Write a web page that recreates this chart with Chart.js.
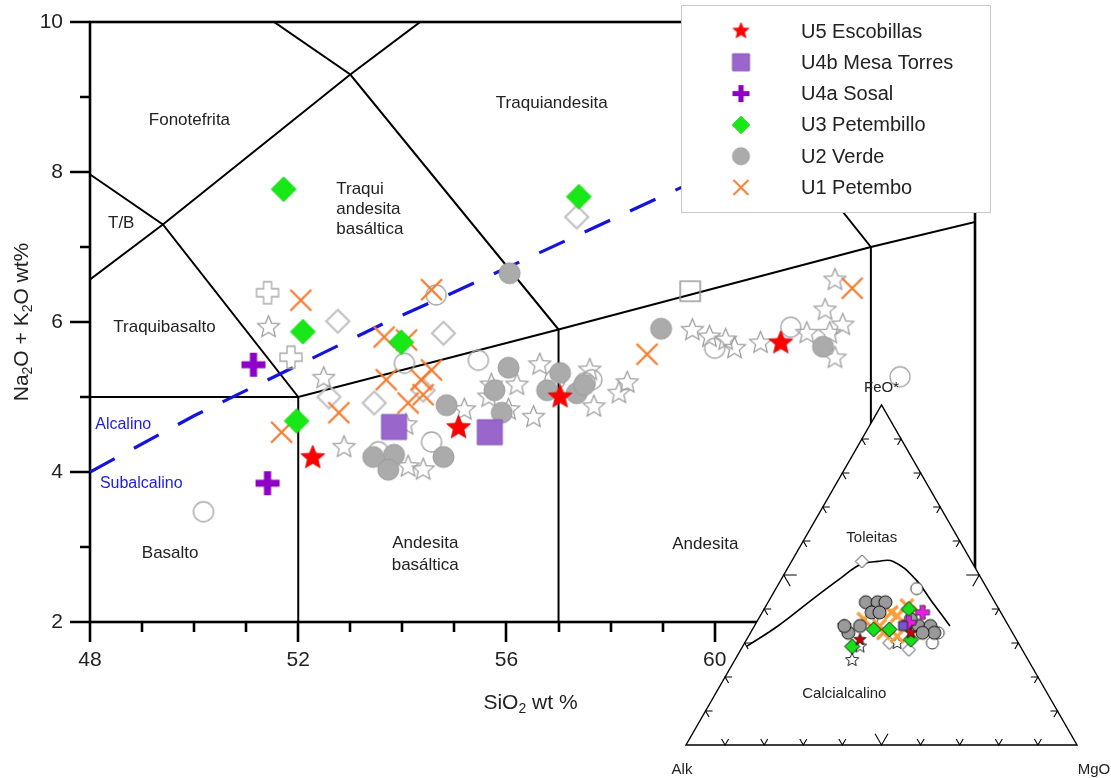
<!DOCTYPE html>
<html>
<head>
<meta charset="utf-8">
<title>TAS y AFM</title>
<script src="https://cdn.jsdelivr.net/npm/chart.js@4.4.1/dist/chart.umd.min.js"></script>
<style>
  html, body { margin: 0; padding: 0; background: #fff; }
  #wrap { position: relative; width: 1111px; height: 778px; overflow: hidden; }
  #tas { position: absolute; left: 0; top: 0; }
  #afm { position: absolute; left: 640px; top: 370px; }
</style>
</head>
<body>
<div id="wrap">
  <canvas id="tas" width="1111" height="778"></canvas>
  <canvas id="afm" width="471" height="408"></canvas>
</div>
<script>
// ---------- TAS data (SiO2 wt %, Na2O + K2O wt %) ----------
const u5SiO2 = [52.28, 55.08, 57.03, 61.27];
const u5Alk  = [4.19, 4.59, 5.00, 5.72];
const u4bSiO2 = [53.84, 55.68];
const u4bAlk  = [4.60, 4.53];
const u4aSiO2 = [51.14, 51.41];
const u4aAlk  = [5.43, 3.85];
const u3SiO2 = [51.72, 57.39, 52.09, 53.98, 51.97];
const u3Alk  = [7.77, 7.67, 5.87, 5.73, 4.68];
const u2SiO2 = [56.06, 56.04, 55.77, 54.85, 55.91, 54.79, 53.84, 53.44, 53.73, 57.03, 56.78, 57.35, 57.49, 58.97, 62.08];
const u2Alk  = [6.65, 5.39, 5.09, 4.89, 4.79, 4.20, 4.23, 4.20, 4.03, 5.32, 5.09, 5.05, 5.16, 5.91, 5.67];
const u1SiO2 = [52.05, 54.56, 53.65, 54.08, 53.69, 54.56, 54.36, 54.40, 54.11, 52.78, 51.68, 58.70, 62.64];
const u1Alk  = [6.29, 6.43, 5.80, 5.76, 5.23, 5.36, 5.23, 5.03, 4.92, 4.79, 4.53, 5.57, 6.45];

// reference samples (open symbols)
const refStarSiO2 = [51.43, 52.49, 52.88, 54.11, 54.40, 54.07, 55.19, 55.71, 56.20, 55.66, 56.04, 56.64, 56.52, 57.60, 57.68, 58.32, 58.16, 59.57, 59.90, 60.21, 60.38, 60.88, 61.77, 62.12, 62.31, 62.46, 62.21, 62.31];
const refStarAlk  = [5.93, 5.25, 4.33, 4.07, 4.03, 4.63, 4.83, 5.16, 5.16, 5.00, 4.83, 5.43, 4.73, 5.36, 4.87, 5.19, 5.05, 5.89, 5.80, 5.76, 5.65, 5.72, 5.85, 6.16, 6.56, 5.96, 5.85, 5.52];
const refCircSiO2 = [50.18, 54.04, 54.65, 55.46, 54.56, 53.54, 56.93, 57.51, 57.64, 60.00, 61.46, 63.56];
const refCircAlk  = [3.47, 5.45, 6.36, 5.49, 4.40, 4.27, 5.23, 5.19, 5.23, 5.65, 5.93, 5.27];
const refDiamSiO2 = [57.35, 52.76, 54.79, 52.59, 53.46, 54.40];
const refDiamAlk  = [7.40, 6.01, 5.85, 5.00, 4.92, 5.09];
const refPlusSiO2 = [51.41, 51.86];
const refPlusAlk  = [6.39, 5.53];
const refSqSiO2 = [59.53];
const refSqAlk  = [6.41];

// TAS field boundaries (Le Bas et al. 1986)
const tasBoundaries = [
  [[45, 5], [52, 5], [57, 5.9], [63, 7], [69, 8]],
  [[52, 2], [52, 5]],
  [[57, 2], [57, 5.9]],
  [[63, 2], [63, 7]],
  [[45, 5], [49.4, 7.3], [53, 9.3], [57.6, 11.7]],
  [[45, 9.4], [49.4, 7.3], [52, 5]],
  [[48.4, 11.5], [53, 9.3], [57, 5.9]],
  [[57.6, 11.7], [63, 7]]
];
// alkaline / subalkaline divide (Irvine & Baragar 1971)
const alkalineDivide = [[48, 4], [50, 4.75], [53.7, 6], [55, 6.4], [60, 8], [65, 8.8]];

const xTickLabels = [48, 52, 56, 60, 64];
const yTickLabels = [2, 4, 6, 8, 10];

const fieldLabels = [
  { text: 'Fonotefrita', x: 49.91, y: 8.69 },
  { text: 'T/B', x: 48.60, y: 7.32 },
  { text: 'Traquiandesita', x: 56.87, y: 8.91 },
  { text: 'Traqui', x: 52.73, y: 7.77, align: 'left' },
  { text: 'andesita', x: 52.73, y: 7.50, align: 'left' },
  { text: 'basáltica', x: 52.73, y: 7.23, align: 'left' },
  { text: 'Traquibasalto', x: 49.43, y: 5.93 },
  { text: 'Alcalino', x: 48.10, y: 4.63, align: 'left', color: '#1c1ce0' },
  { text: 'Subalcalino', x: 48.19, y: 3.84, align: 'left', color: '#1c1ce0' },
  { text: 'Basalto', x: 49.54, y: 2.91 },
  { text: 'Andesita', x: 54.44, y: 3.05 },
  { text: 'basáltica', x: 54.44, y: 2.76 },
  { text: 'Andesita', x: 59.82, y: 3.04 }
];

// ---------- AFM data [A, F, M] ----------
const afmU5  = [[0.40, 0.31, 0.29], [0.26, 0.33, 0.41]];
const afmU4b = [[0.27, 0.35, 0.38]];
const afmU4a = [[0.20, 0.39, 0.41], [0.25, 0.36, 0.39]];
const afmU3  = [[0.23, 0.40, 0.37], [0.43, 0.29, 0.28], [0.35, 0.34, 0.31], [0.31, 0.34, 0.35], [0.27, 0.31, 0.42]];
const afmU2  = [[0.33, 0.42, 0.25], [0.30, 0.42, 0.28], [0.28, 0.42, 0.30], [0.33, 0.39, 0.28], [0.31, 0.39, 0.30],
                [0.42, 0.33, 0.25], [0.38, 0.35, 0.27], [0.23, 0.35, 0.42], [0.20, 0.35, 0.45], [0.20, 0.33, 0.47],
                [0.23, 0.33, 0.44], [0.42, 0.35, 0.23], [0.24, 0.37, 0.39]];
const afmU1  = [[0.36, 0.37, 0.27], [0.28, 0.39, 0.33], [0.27, 0.38, 0.35], [0.21, 0.39, 0.40], [0.33, 0.33, 0.34],
                [0.30, 0.32, 0.38], [0.33, 0.35, 0.32], [0.23, 0.41, 0.36]];
const afmRefStar = [[0.42, 0.35, 0.23], [0.45, 0.25, 0.30], [0.41, 0.29, 0.30], [0.31, 0.30, 0.39]];
const afmRefCirc = [[0.18, 0.46, 0.36], [0.22, 0.30, 0.48], [0.19, 0.33, 0.48], [0.34, 0.37, 0.29]];
const afmRefDiam = [[0.28, 0.54, 0.18], [0.33, 0.30, 0.37], [0.29, 0.28, 0.43]];
// tholeiitic / calc-alkaline divide
const afmDivideA = [0.70, 0.59, 0.46, 0.36, 0.29, 0.24, 0.20, 0.17, 0.16, 0.15];
const afmDivideF = [0.29, 0.35, 0.43, 0.49, 0.53, 0.54, 0.54, 0.49, 0.42, 0.35];
const afmDivideM = [0.01, 0.06, 0.11, 0.15, 0.18, 0.22, 0.26, 0.34, 0.42, 0.50];

const afmLabels = [
  { text: 'Toleitas', a: 0.22, f: 0.61, m: 0.17 },
  { text: 'Calcialcalino', a: 0.52, f: 0.15, m: 0.33 }
];

// ---------- drawing helpers ----------
const FONT = '"Liberation Sans", Arial, Helvetica, sans-serif';
const TEXT = '#222';

function markerCanvas(size, paint) {
  const c = document.createElement('canvas');
  c.width = size; c.height = size;
  const g = c.getContext('2d');
  g.translate(size / 2, size / 2);
  paint(g);
  return c;
}
function finish(g, fill, stroke, lw) {
  if (fill) { g.fillStyle = fill; g.fill(); }
  if (stroke) { g.lineWidth = lw; g.strokeStyle = stroke; g.stroke(); }
}
const mk = {
  star(R, fill, stroke, lw) {
    return markerCanvas(Math.ceil(2 * R + 6), g => {
      g.beginPath();
      for (let i = 0; i < 10; i++) {
        const r = i % 2 ? R * 0.45 : R;
        const ang = -Math.PI / 2 + i * Math.PI / 5;
        g.lineTo(r * Math.cos(ang), r * Math.sin(ang));
      }
      g.closePath();
      g.lineJoin = 'miter';
      finish(g, fill, stroke, lw);
    });
  },
  square(h, fill, stroke, lw) {
    return markerCanvas(Math.ceil(2 * h + 6), g => {
      g.beginPath(); g.rect(-h, -h, 2 * h, 2 * h);
      finish(g, fill, stroke, lw);
    });
  },
  diamond(h, fill, stroke, lw) {
    return markerCanvas(Math.ceil(2 * h + 6), g => {
      g.beginPath(); g.moveTo(0, -h); g.lineTo(h, 0); g.lineTo(0, h); g.lineTo(-h, 0); g.closePath();
      finish(g, fill, stroke, lw);
    });
  },
  circle(r, fill, stroke, lw) {
    return markerCanvas(Math.ceil(2 * r + 6), g => {
      g.beginPath(); g.arc(0, 0, r, 0, Math.PI * 2);
      finish(g, fill, stroke, lw);
    });
  },
  plus(L, w, fill, stroke, lw) {
    return markerCanvas(Math.ceil(2 * L + 6), g => {
      g.beginPath();
      g.moveTo(-w, -L); g.lineTo(w, -L); g.lineTo(w, -w); g.lineTo(L, -w); g.lineTo(L, w); g.lineTo(w, w);
      g.lineTo(w, L); g.lineTo(-w, L); g.lineTo(-w, w); g.lineTo(-L, w); g.lineTo(-L, -w); g.lineTo(-w, -w);
      g.closePath();
      finish(g, fill, stroke, lw);
    });
  },
  cross(h, color, lw) {
    return markerCanvas(Math.ceil(2 * h + 6), g => {
      g.beginPath(); g.moveTo(-h, -h); g.lineTo(h, h); g.moveTo(h, -h); g.lineTo(-h, h);
      g.lineCap = 'butt'; g.lineWidth = lw; g.strokeStyle = color; g.stroke();
    });
  }
};

const icon = {
  u5: mk.star(12.5, '#ff0000', '#d00000', 0.8),
  u4b: mk.square(12.5, '#9966cc', '#8656bd', 1),
  u4a: mk.plus(12, 3.6, '#8e00c8', null, 0),
  u3: mk.diamond(12.5, '#18e818', '#12d012', 0.8),
  u2: mk.circle(10.5, '#ababab', '#9b9b9b', 1),
  u1: mk.cross(10.5, '#f47a2c', 2.2),
  refStar: mk.star(11.5, null, '#9a9a9a', 1.2),
  refCirc: mk.circle(10, null, '#a8a8a8', 1.4),
  refDiam: mk.diamond(11.5, null, '#c2c2c2', 2.2),
  refPlus: mk.plus(11, 4, null, '#a8a8a8', 1.3),
  refSq: mk.square(10, null, '#9c9c9c', 1.6)
};
const legendIcon = {
  u5: mk.star(8.5, '#ff0000', '#d00000', 0.6),
  u4b: mk.square(8.5, '#9966cc', '#8656bd', 1),
  u4a: mk.plus(8.5, 2.6, '#8e00c8', null, 0),
  u3: mk.diamond(9, '#18e818', '#12d012', 0.6),
  u2: mk.circle(8.5, '#ababab', '#9b9b9b', 1),
  u1: mk.cross(7.5, '#f47a2c', 1.8)
};
const afmIcon = {
  u5: mk.star(6.5, '#cc0000', '#111', 0.8),
  u4b: mk.square(4.5, '#7755cc', '#111', 0.8),
  u4a: mk.plus(7, 2.5, '#e81ee8', '#333', 0.8),
  u3: mk.diamond(7.5, '#18e018', '#111', 1),
  u2: mk.circle(6.5, '#9a9a9a', '#111', 1),
  u1: mk.cross(6.5, '#f5a040', 3.2),
  refStar: mk.star(7, '#fff', '#222', 1),
  refCirc: mk.circle(6, '#fff', '#333', 1),
  refDiam: mk.diamond(6.5, '#fff', '#333', 1)
};

function pairs(xs, ys) { return xs.map((v, i) => ({ x: v, y: ys[i] })); }

function drawRich(ctx, parts, cx, cy, size) {
  const base = size + 'px ' + FONT, small = Math.round(size * 0.68) + 'px ' + FONT;
  let total = 0;
  parts.forEach(([t, sub]) => { ctx.font = sub ? small : base; total += ctx.measureText(t).width; });
  let xx = cx - total / 2;
  ctx.textAlign = 'left'; ctx.textBaseline = 'middle';
  parts.forEach(([t, sub]) => {
    ctx.font = sub ? small : base;
    ctx.fillText(t, xx, cy + (sub ? size * 0.3 : 0));
    xx += ctx.measureText(t).width;
  });
}

// ---------- TAS chart ----------
function pointSet(label, xs, ys, style, order, inLegend) {
  return { label, data: pairs(xs, ys), pointStyle: style, pointRadius: 10, pointHoverRadius: 10,
           showLine: false, order, inLegend };
}

const tasDatasets = [];
tasBoundaries.forEach(line => tasDatasets.push({
  data: line.map(([x, y]) => ({ x, y })), showLine: true, pointRadius: 0,
  borderColor: '#000', borderWidth: 2, fill: false, order: 20
}));
tasDatasets.push({
  data: alkalineDivide.map(([x, y]) => ({ x, y })), showLine: true, pointRadius: 0,
  borderColor: '#1414dc', borderWidth: 3.2, borderDash: [28, 22], fill: false, order: 19
});
tasDatasets.push(pointSet('', refDiamSiO2, refDiamAlk, icon.refDiam, 12, false));
tasDatasets.push(pointSet('', refPlusSiO2, refPlusAlk, icon.refPlus, 12, false));
tasDatasets.push(pointSet('', refSqSiO2, refSqAlk, icon.refSq, 12, false));
tasDatasets.push(pointSet('', refCircSiO2, refCircAlk, icon.refCirc, 11, false));
tasDatasets.push(pointSet('', refStarSiO2, refStarAlk, icon.refStar, 11, false));
const unitSets = [
  pointSet('U5 Escobillas', u5SiO2, u5Alk, icon.u5, 0, true),
  pointSet('U4b Mesa Torres', u4bSiO2, u4bAlk, icon.u4b, 1, true),
  pointSet('U4a Sosal', u4aSiO2, u4aAlk, icon.u4a, 2, true),
  pointSet('U3 Petembillo', u3SiO2, u3Alk, icon.u3, 3, true),
  pointSet('U2 Verde', u2SiO2, u2Alk, icon.u2, 5, true),
  pointSet('U1 Petembo', u1SiO2, u1Alk, icon.u1, 4, true)
];
const legendIcons = [legendIcon.u5, legendIcon.u4b, legendIcon.u4a, legendIcon.u3, legendIcon.u2, legendIcon.u1];
unitSets.forEach(d => tasDatasets.push(d));

const tasFrame = {
  id: 'tasFrame',
  beforeDatasetsDraw(chart) {
    const { ctx, chartArea: a, scales: { x, y } } = chart;
    ctx.save();
    // field names
    ctx.font = '17px ' + FONT; ctx.textBaseline = 'middle';
    fieldLabels.forEach(l => {
      ctx.textAlign = l.align || 'center';
      ctx.fillStyle = l.color || TEXT;
      ctx.font = (l.color ? '16px ' : '17px ') + FONT;
      ctx.fillText(l.text, x.getPixelForValue(l.x), y.getPixelForValue(l.y));
    });
    // frame
    ctx.strokeStyle = '#000'; ctx.lineWidth = 2.6; ctx.lineCap = 'butt';
    ctx.strokeRect(a.left, a.top, a.right - a.left, a.bottom - a.top);
    // ticks
    ctx.beginPath();
    for (let v = x.min; v <= x.max; v++) {
      const px = Math.round(x.getPixelForValue(v));
      const len = xTickLabels.includes(v) ? 20 : 10;
      ctx.moveTo(px, a.bottom); ctx.lineTo(px, a.bottom + len);
    }
    for (let v = y.min; v <= y.max; v++) {
      const py = Math.round(y.getPixelForValue(v));
      const len = yTickLabels.includes(v) ? 20 : 10;
      ctx.moveTo(a.left, py); ctx.lineTo(a.left - len, py);
    }
    ctx.stroke();
    // tick labels
    ctx.fillStyle = TEXT; ctx.font = '21px ' + FONT;
    ctx.textAlign = 'center'; ctx.textBaseline = 'middle';
    xTickLabels.forEach(v => ctx.fillText(String(v), x.getPixelForValue(v), a.bottom + 38));
    ctx.textAlign = 'right';
    yTickLabels.forEach(v => ctx.fillText(String(v), a.left - 27, y.getPixelForValue(v)));
    // axis titles
    drawRich(ctx, [['SiO'], ['2', true], [' wt %']], (a.left + a.right) / 2 - 2, a.bottom + 81, 21);
    ctx.save();
    ctx.translate(22, (a.top + a.bottom) / 2);
    ctx.rotate(-Math.PI / 2);
    drawRich(ctx, [['Na'], ['2', true], ['O + K'], ['2', true], ['O wt%']], 0, 0, 21);
    ctx.restore();
    ctx.restore();
  },
  afterDraw(chart) {
    const ctx = chart.ctx;
    ctx.save();
    const bx = 681, by = 5, bw = 309, bh = 207;
    ctx.fillStyle = '#fff';
    ctx.fillRect(bx, by, bw, bh);
    ctx.strokeStyle = '#c8c8c8'; ctx.lineWidth = 1;
    ctx.strokeRect(bx + 0.5, by + 0.5, bw, bh);
    ctx.font = '20px ' + FONT; ctx.fillStyle = TEXT;
    ctx.textAlign = 'left'; ctx.textBaseline = 'middle';
    chart.data.datasets.filter(d => d.inLegend).forEach((d, i) => {
      const cy = 31 + i * 31.3;
      const ic = legendIcons[i];
      ctx.drawImage(ic, 741 - ic.width / 2, cy - ic.height / 2);
      ctx.fillText(d.label, 801, cy + 1);
    });
    ctx.restore();
  }
};

new Chart(document.getElementById('tas'), {
  type: 'scatter',
  data: { datasets: tasDatasets },
  options: {
    responsive: false, animation: false, devicePixelRatio: 1, events: [],
    layout: { padding: { left: 90, top: 22, right: 136, bottom: 156 } },
    scales: {
      x: { type: 'linear', min: 48, max: 65, display: false },
      y: { type: 'linear', min: 2, max: 10, display: false }
    },
    plugins: { legend: { display: false }, tooltip: { enabled: false } }
  },
  plugins: [tasFrame]
});

// ---------- AFM ternary inset ----------
function tern([a, f, m]) { const s = a + f + m; return { x: (m + f / 2) / s, y: f / s }; }
function afmSet(rows, style, order) {
  return { data: rows.map(tern), pointStyle: style, pointRadius: 6, showLine: false, order, clip: false };
}
const afmDatasets = [
  { data: afmDivideA.map((a, i) => tern([a, afmDivideF[i], afmDivideM[i]])), showLine: true, tension: 0.4,
    pointRadius: 0, borderColor: '#000', borderWidth: 1.6, fill: false, order: 20, clip: false },
  afmSet(afmRefDiam, afmIcon.refDiam, 12),
  afmSet(afmRefStar, afmIcon.refStar, 11),
  afmSet(afmRefCirc, afmIcon.refCirc, 10),
  afmSet(afmU1, afmIcon.u1, 6),
  afmSet(afmU2, afmIcon.u2, 5),
  afmSet(afmU3, afmIcon.u3, 3),
  afmSet(afmU4a, afmIcon.u4a, 2),
  afmSet(afmU4b, afmIcon.u4b, 1),
  afmSet(afmU5, afmIcon.u5, 0)
];

const afmFrame = {
  id: 'afmFrame',
  beforeDatasetsDraw(chart) {
    const { ctx, scales: { x, y } } = chart;
    const P = (xv, yv) => [x.getPixelForValue(xv), y.getPixelForValue(yv)];
    const pA = P(0, 0), pM = P(1, 0), pF = P(0.5, 1);
    ctx.save();
    ctx.beginPath();
    ctx.moveTo(...pA); ctx.lineTo(...pM); ctx.lineTo(...pF); ctx.closePath();
    ctx.fillStyle = '#fff'; ctx.fill();
    ctx.strokeStyle = '#000'; ctx.lineWidth = 1.4; ctx.lineJoin = 'miter'; ctx.stroke();
    // ticks every 10 %, arms along the two grid directions
    const unit = (p, q) => { const dx = q[0] - p[0], dy = q[1] - p[1], l = Math.hypot(dx, dy); return [dx / l, dy / l]; };
    const sides = [
      [pA, pM, unit(pA, pF), unit(pM, pF)],
      [pA, pF, unit(pA, pM), unit(pF, pM)],
      [pM, pF, unit(pM, pA), unit(pF, pA)]
    ];
    ctx.beginPath(); ctx.lineWidth = 1.1;
    sides.forEach(([p0, p1, d1, d2]) => {
      for (let k = 1; k <= 9; k++) {
        const t = k / 10;
        const px = p0[0] + (p1[0] - p0[0]) * t, py = p0[1] + (p1[1] - p0[1]) * t;
        const len = k === 5 ? 13 : 7;
        ctx.moveTo(px + d1[0] * len, py + d1[1] * len); ctx.lineTo(px, py);
        ctx.lineTo(px + d2[0] * len, py + d2[1] * len);
      }
    });
    ctx.stroke();
    // labels
    ctx.fillStyle = TEXT; ctx.font = '15px ' + FONT;
    ctx.textAlign = 'center'; ctx.textBaseline = 'middle';
    afmLabels.forEach(l => { const t = tern([l.a, l.f, l.m]); ctx.fillText(l.text, x.getPixelForValue(t.x), y.getPixelForValue(t.y)); });
    ctx.fillText('FeO*', pF[0], pF[1] - 17);
    ctx.fillText('Alk', pA[0] - 4, pA[1] + 25);
    ctx.fillText('MgO', pM[0] + 17, pM[1] + 25);
    ctx.restore();
  }
};

new Chart(document.getElementById('afm'), {
  type: 'scatter',
  data: { datasets: afmDatasets },
  options: {
    responsive: false, animation: false, devicePixelRatio: 1, events: [],
    layout: { padding: { left: 46, right: 34, top: 35, bottom: 33 } },
    scales: {
      x: { type: 'linear', min: 0, max: 1, display: false },
      y: { type: 'linear', min: 0, max: 1, display: false }
    },
    plugins: { legend: { display: false }, tooltip: { enabled: false } }
  },
  plugins: [afmFrame]
});
</script>
</body>
</html>
